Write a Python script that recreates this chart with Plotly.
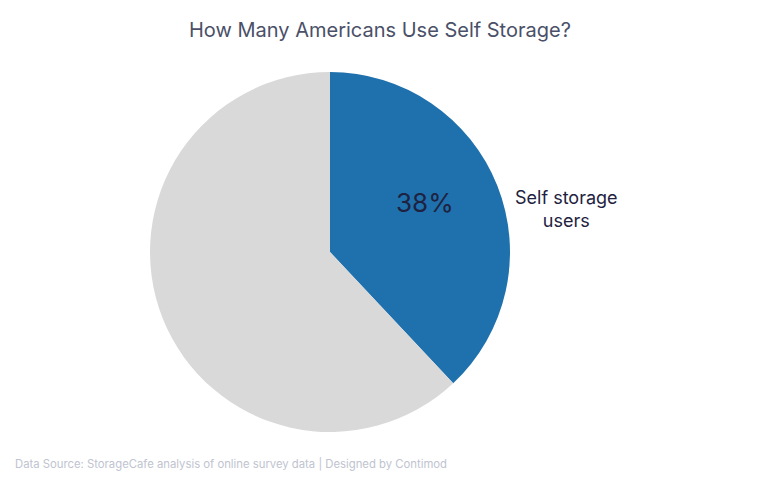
import plotly.graph_objects as go

labels = ["Self storage users", "Non-users"]
values = [38, 62]
colors = ["#1f71ad", "#d9d9d9"]
title = "How Many Americans Use Self Storage?"
source = "Data Source: StorageCafe analysis of online survey data | Designed by Contimod"

W, H = 760, 480
FONT = "Inter, Lato, sans-serif"
fig = go.Figure(go.Pie(
    labels=labels,
    values=values,
    marker=dict(colors=colors, line=dict(width=0)),
    sort=False,
    direction="clockwise",
    rotation=0,
    textinfo="none",
    hoverinfo="label+percent",
    showlegend=False,
    domain=dict(x=[150 / W, 510 / W], y=[1 - 432 / H, 1 - 72 / H]),
))

pct = round(100 * values[0] / sum(values))

fig.update_layout(
    width=W, height=H,
    margin=dict(l=0, r=0, t=0, b=0),
    paper_bgcolor="white",
    plot_bgcolor="white",
    annotations=[
        dict(text=title, x=380 / W, y=1 - 30 / H, xref="paper", yref="paper",
             xanchor="center", yanchor="middle", showarrow=False,
             font=dict(family=FONT, size=20, color="#4a5068")),
        dict(text=f"{pct}%", x=425 / W, y=1 - 203 / H, xref="paper", yref="paper",
             xanchor="center", yanchor="middle", showarrow=False,
             font=dict(family=FONT, size=26, color="#1e2240")),
        dict(text=labels[0].replace("storage ", "storage<br>"), x=566 / W, y=1 - 209 / H,
             xref="paper", yref="paper", xanchor="center", yanchor="middle",
             showarrow=False, align="center",
             font=dict(family=FONT, size=18, color="#1e2240")),
        dict(text=source, x=13 / W, y=1 - 464 / H, xref="paper", yref="paper",
             xanchor="left", yanchor="middle", showarrow=False,
             font=dict(family=FONT, size=11.3, color="#c0c4d0")),
    ],
)

fig.write_html("out.html", config={"displayModeBar": False},
               post_script="document.body.style.margin='0';")
